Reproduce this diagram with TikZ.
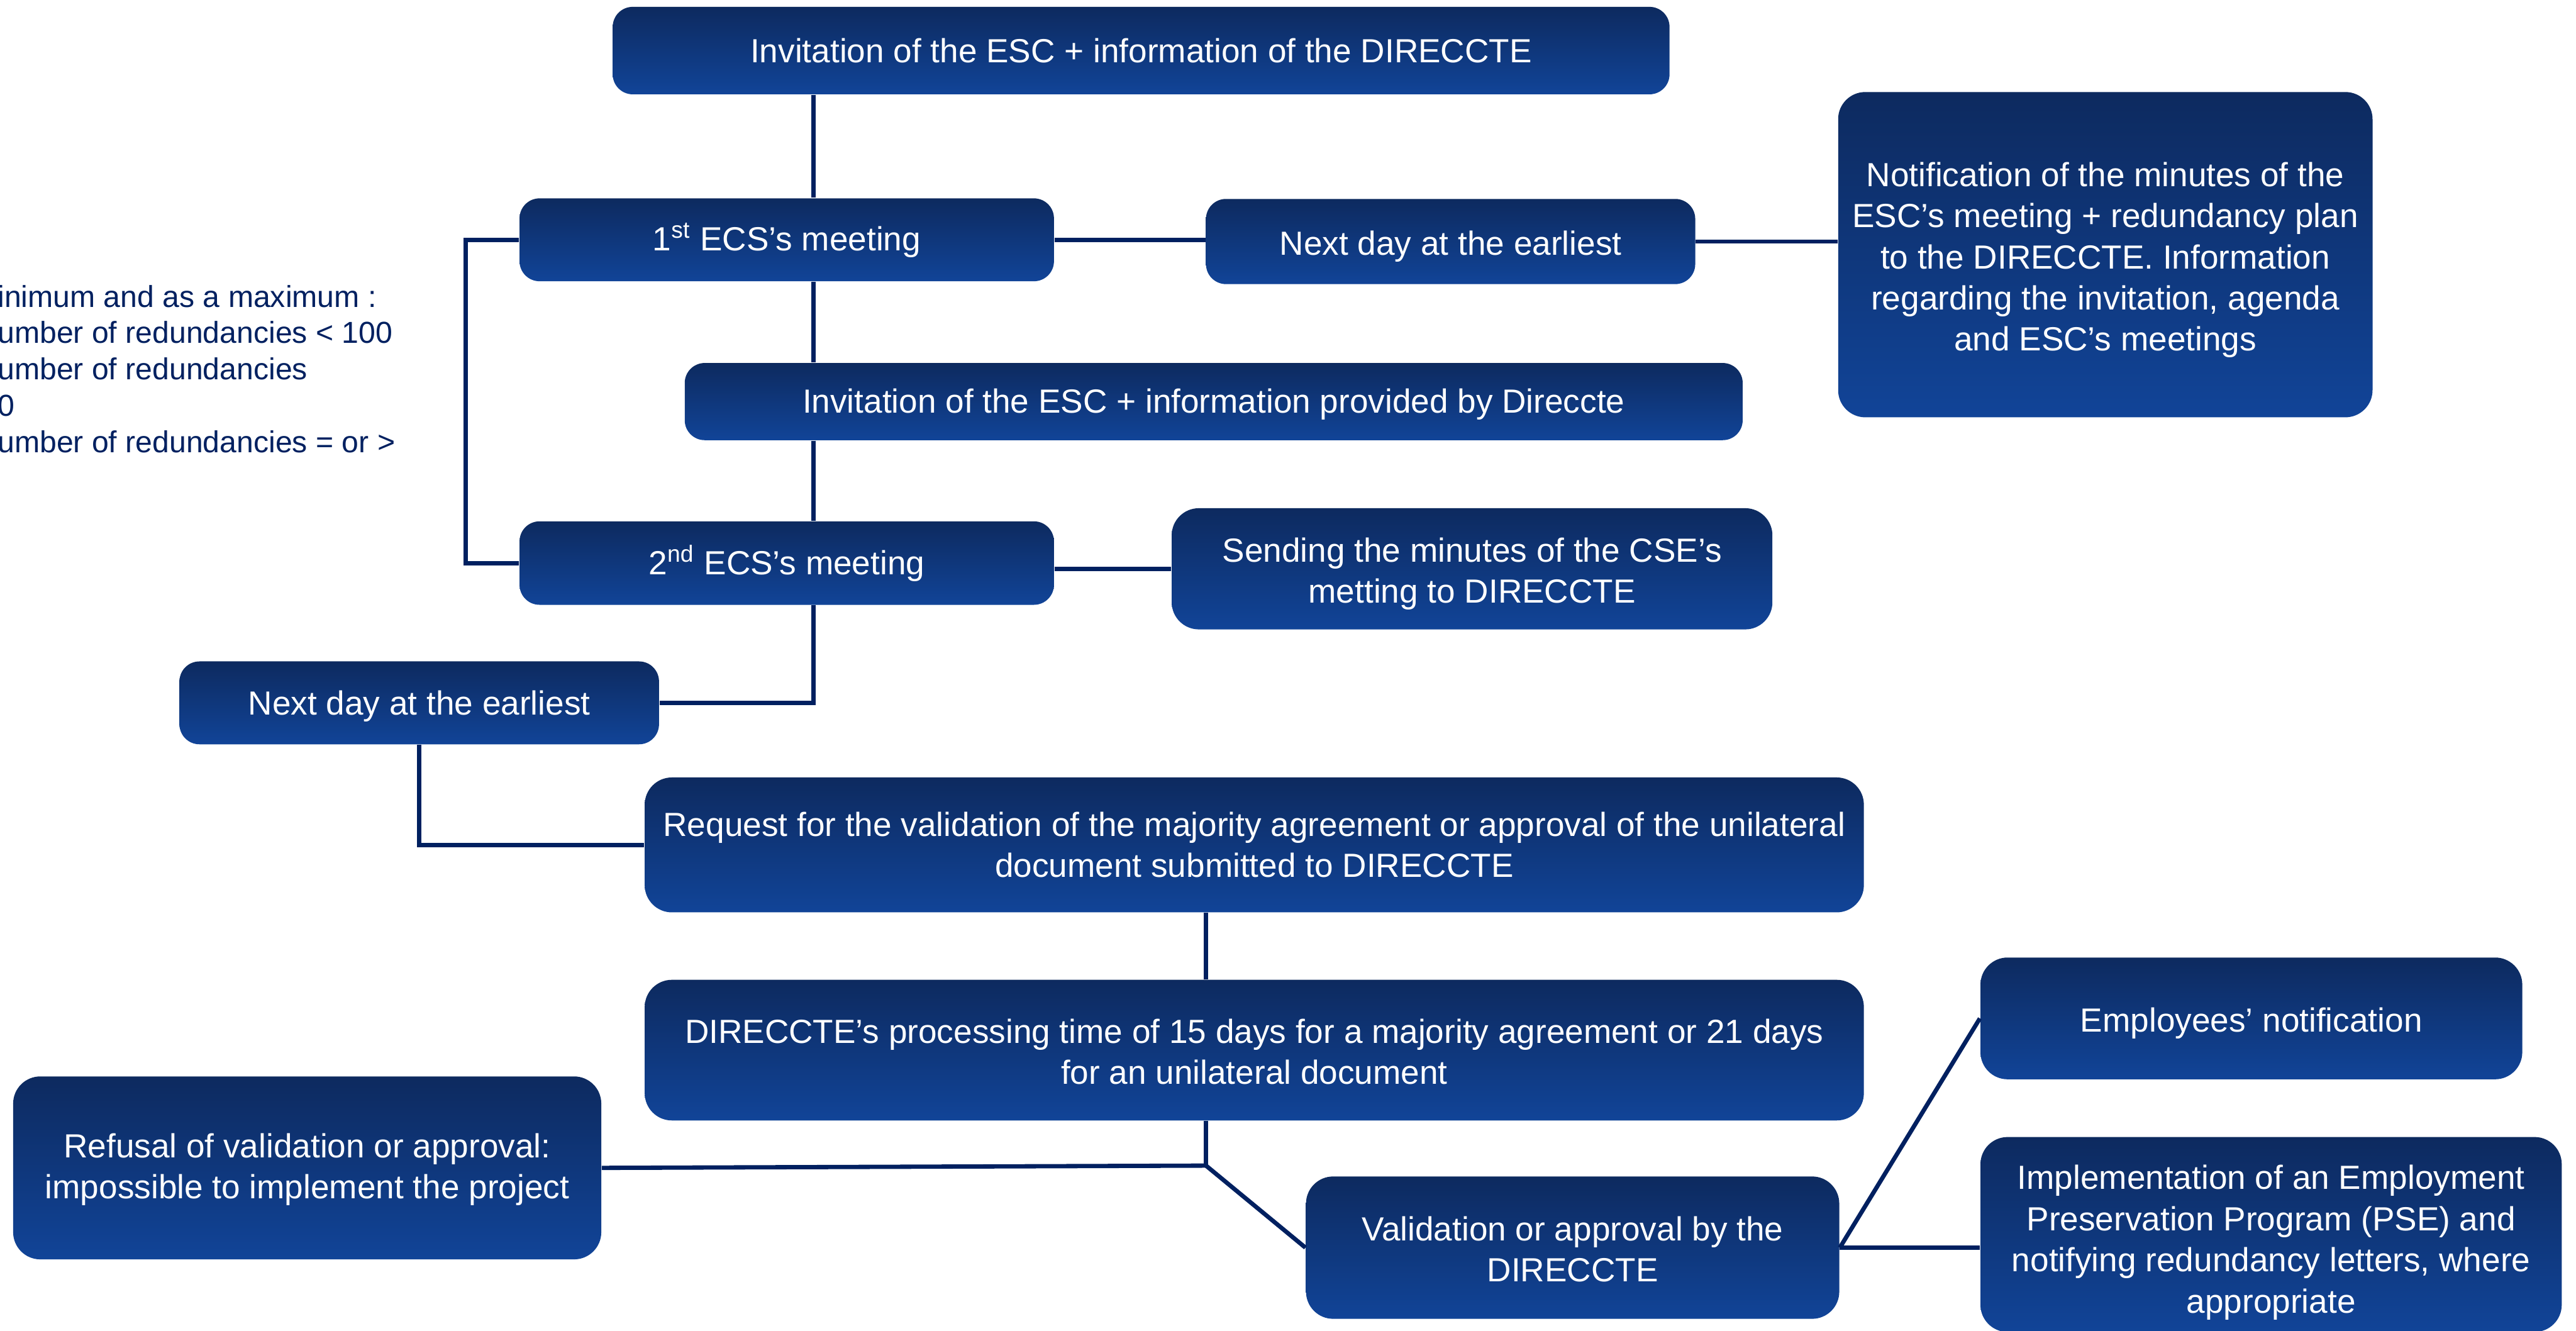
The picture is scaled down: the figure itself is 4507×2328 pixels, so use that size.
\documentclass[tikz,border=0pt]{standalone}
\usepackage{fontspec}
\setmainfont{Liberation Sans}
\usetikzlibrary{calc}
\definecolor{boxtop}{RGB}{13,42,95}
\definecolor{boxbot}{RGB}{17,68,152}
\definecolor{linec}{RGB}{0,32,96}
\newcommand{\dstrut}[1]{\rule{0pt}{#1}}
\tikzset{
  bx/.style={rectangle, rounded corners=7pt, top color=boxtop, bottom color=boxbot,
    draw=none, text=white, font=\fontsize{11.7}{14.4}\selectfont, align=center, inner sep=0pt},
  bigbx/.style={bx, rounded corners=9.5pt},
  conn/.style={draw=linec, line width=1.5pt},
  lefttxt/.style={anchor=base west, inner sep=0pt, text=linec, font=\fontsize{10.6}{12.8}\selectfont},
}
\begin{document}
\begin{tikzpicture}[x=0.2pt,y=-0.2pt]
\useasboundingbox (0,0) rectangle (4507,2328);
\fill[white] (0,0) rectangle (4507,2328);

% left clipped text
\node[lefttxt] (lt1) at (-5,537) {inimum and as a maximum :};
\node[lefttxt] (lt2) at (-5,600) {umber of redundancies < 100};
\node[lefttxt] (lt3) at (-5,664) {umber of redundancies};
\node[lefttxt] (lt4) at (-5,728) {0};
\node[lefttxt] (lt5) at (-5,792) {umber of redundancies = or >};

% boxes
\node[bx, minimum width=1849*0.2pt, minimum height=153*0.2pt] (b1) at (1996.5,88.5)
  {Invitation of the ESC + information of the DIRECCTE};
\node[bx, minimum width=935*0.2pt, minimum height=145*0.2pt] (m1) at (1376.5,419.5)
  {\dstrut{10pt}1\textsuperscript{st} ECS’s meeting};
\node[bx, minimum width=856*0.2pt, minimum height=149*0.2pt] (nd1) at (2538,422.5)
  {\dstrut{12pt}Next day at the earliest};
\node[bigbx, minimum width=935*0.2pt, minimum height=569*0.2pt] (notif) at (3683.5,445.5)
  {\dstrut{12.2pt}Notification of the minutes of the\\ESC’s meeting + redundancy plan\\to the DIRECCTE. Information\\regarding the invitation, agenda\\and ESC’s meetings};
\node[bx, minimum width=1851*0.2pt, minimum height=135*0.2pt] (inv2) at (2123.5,702.5)
  {\dstrut{10.5pt}Invitation of the ESC + information provided by Direccte};
\node[bx, minimum width=935*0.2pt, minimum height=146*0.2pt] (m2) at (1376.5,985)
  {\dstrut{10pt}2\textsuperscript{nd} ECS’s meeting};
\node[bigbx, minimum width=1051*0.2pt, minimum height=212*0.2pt] (send) at (2575.5,995)
  {\dstrut{12pt}Sending the minutes of the CSE’s\\metting to DIRECCTE};
\node[bx, minimum width=839*0.2pt, minimum height=145*0.2pt] (nd2) at (733.5,1229.5)
  {\dstrut{11pt}Next day at the earliest};
\node[bigbx, minimum width=2133*0.2pt, minimum height=236*0.2pt] (req) at (2194.5,1478)
  {Request for the validation of the majority agreement or approval of the unilateral\\document submitted to DIRECCTE};
\node[bigbx, minimum width=2133*0.2pt, minimum height=246*0.2pt] (proc) at (2194.5,1837)
  {\dstrut{9.5pt}DIRECCTE’s processing time of 15 days for a majority agreement or 21 days\\for an unilateral document};
\node[bigbx, minimum width=1029*0.2pt, minimum height=320*0.2pt] (ref) at (537.5,2043)
  {\dstrut{9.5pt}Refusal of validation or approval:\\impossible to implement the project};
\node[bigbx, minimum width=933*0.2pt, minimum height=249*0.2pt] (val) at (2751.5,2182.5)
  {\dstrut{9.5pt}Validation or approval by the\\DIRECCTE};
\node[bigbx, minimum width=948*0.2pt, minimum height=213*0.2pt] (emp) at (3939,1781.5)
  {\dstrut{12pt}Employees’ notification};
\node[bigbx, minimum width=1017*0.2pt, minimum height=341*0.2pt] (impl) at (3973.5,2159.5)
  {\dstrut{14pt}Implementation of an Employment\\Preservation Program (PSE) and\\notifying redundancy letters, where\\appropriate};

% helper coordinates
\coordinate (tr) at (1423,0);
\coordinate (brk) at (815,0);
\coordinate (tr2) at (2110,0);
\coordinate (jn) at (2110,2039);

% connectors
\draw[conn] (b1.south -| tr) -- (m1.north -| tr);
\draw[conn] (m1.south -| tr) -- (inv2.north -| tr);
\draw[conn] (inv2.south -| tr) -- (m2.north -| tr);
\draw[conn] (m2.south -| tr) |- (nd2.east);
\draw[conn] (m1.west) -- (m1.west -| brk) -- (m2.west -| brk) -- (m2.west);
\draw[conn] (m1.east) -- (m1.east -| nd1.west);
\draw[conn] (nd1.east) -- (nd1.east -| notif.west);
\draw[conn] (send.west -| m2.east) -- (send.west);
\draw[conn] (nd2.south) |- (req.west);
\draw[conn] (req.south -| tr2) -- (proc.north -| tr2);
\draw[conn] (proc.south -| tr2) -- (jn);
\draw[conn] (jn) -- (ref.east);
\draw[conn] (jn) -- (val.west);
\draw[conn] (val.east) -- (emp.west);
\draw[conn] (val.east) -- (val.east -| impl.west);
\end{tikzpicture}
\end{document}
